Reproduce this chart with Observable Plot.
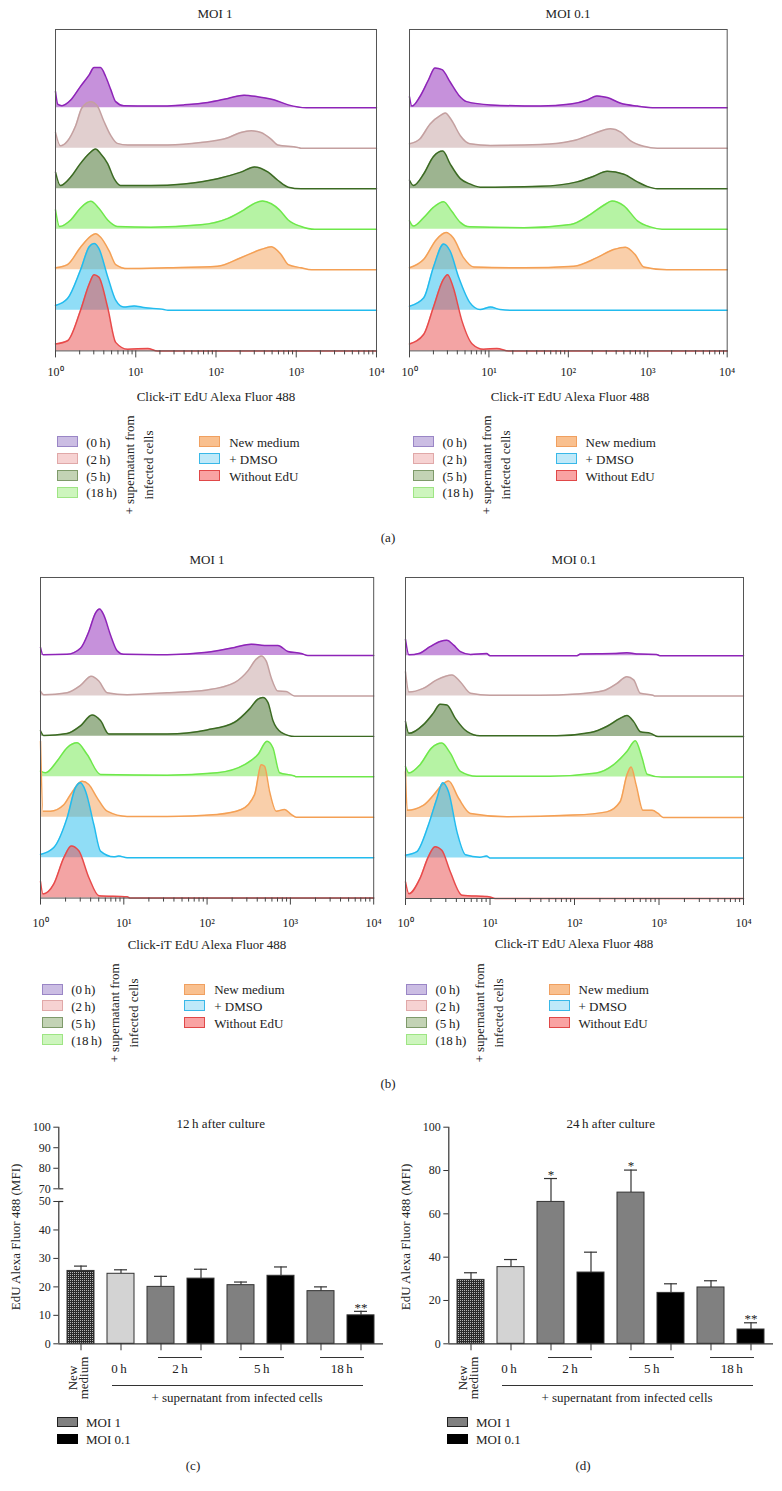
<!DOCTYPE html>
<html><head><meta charset="utf-8">
<script src="https://cdn.jsdelivr.net/npm/d3@7"></script>
<script src="https://cdn.jsdelivr.net/npm/@observablehq/plot@0.6"></script>
<style>
body{margin:0;background:#fff;}
#root{position:relative;width:782px;height:1491px;font-family:"Liberation Serif","Times New Roman",serif;color:#222;overflow:hidden;background:#fff;}
.t{position:absolute;white-space:pre;line-height:1;}
#root svg{position:absolute;overflow:visible;}
</style></head><body><div id="root"></div>
<script>
// ---------------- DATA ----------------
const traceNames = ["0 h","2 h","5 h","18 h","New medium","+ DMSO","Without EdU"];
const traceStroke = ["#8e24b8","#c4a0a0","#3b6a22","#6ee84a","#f4a055","#22bbee","#e84a4a"];
const traceOffsets = [6,5,4,3,2,1,0];
const legendFill = ["#cbbde3","#f6d2d2","#c3d3b5","#cdf5bd","#f9c08f","#bfe9f9","#f9a3a3"];
const legendStroke = ["#9a86c6","#e0a8a8","#7e9a6a","#9ee584","#f0a060","#38b8e8","#e04848"];
const legendTimeLabels = ["(0\u2009h)","(2\u2009h)","(5\u2009h)","(18\u2009h)"];
const legendCtrlLabels = ["New medium","+ DMSO","Without EdU"];
const histMajorTicks = [1,10,100,1000,10000];
const histTickLabels = ["10\u2070","10\u00b9","10\u00b2","10\u00b3","10\u2074"];
const histAxisLabel = "Click-iT EdU Alexa Fluor 488";

// each point: [log10(fluorescence), height in trace units]
// (a) MOI 1
const a1_0h  = [[0,0.40],[0.03,0.08],[0.08,0.05],[0.19,0.19],[0.31,0.52],[0.42,0.81],[0.48,0.99],[0.56,0.99],[0.625,0.77],[0.69,0.44],[0.75,0.15],[0.85,0.05],[1.19,0.04],[1.6,0.07],[1.9,0.13],[2.15,0.23],[2.35,0.31],[2.52,0.27],[2.73,0.19],[2.9,0.07],[3.125,0],[4,0]];
const a1_2h  = [[0,0.39],[0.06,0.06],[0.15,0.18],[0.25,0.55],[0.33,1.0],[0.44,1.15],[0.52,1.05],[0.6,0.68],[0.69,0.31],[0.77,0.12],[0.9,0.08],[1.4,0.08],[1.81,0.14],[2.15,0.26],[2.31,0.39],[2.44,0.43],[2.56,0.39],[2.69,0.22],[2.77,0.08],[3.02,0.02],[3.06,0],[4,0]];
const a1_5h  = [[0,0.41],[0.06,0.08],[0.19,0.29],[0.31,0.62],[0.42,0.87],[0.5,0.98],[0.56,0.87],[0.65,0.62],[0.73,0.25],[0.81,0.08],[1.19,0.08],[1.6,0.12],[2.02,0.25],[2.31,0.41],[2.48,0.54],[2.65,0.41],[2.77,0.21],[2.9,0.04],[3.06,0],[4,0]];
const a1_18h = [[0,0.48],[0.05,0.07],[0.19,0.23],[0.31,0.52],[0.44,0.69],[0.54,0.52],[0.65,0.23],[0.77,0.07],[1.19,0.05],[1.81,0.11],[2.15,0.27],[2.35,0.48],[2.48,0.64],[2.58,0.70],[2.69,0.63],[2.79,0.48],[2.9,0.23],[3.06,0.07],[3.23,0],[4,0]];
const a1_new = [[0,0.05],[0.15,0.13],[0.31,0.55],[0.44,0.83],[0.5,0.89],[0.56,0.81],[0.67,0.46],[0.75,0.13],[0.9,0.03],[1.4,0.05],[2.02,0.09],[2.31,0.3],[2.56,0.5],[2.69,0.57],[2.81,0.38],[2.9,0.13],[3.06,0.05],[3.19,0],[4,0]];
const a1_dmso= [[0,0.12],[0.15,0.29],[0.31,0.99],[0.42,1.57],[0.48,1.65],[0.54,1.53],[0.65,0.83],[0.75,0.25],[0.85,0.08],[0.98,0.11],[1.1,0.07],[1.35,0.02],[1.4,0],[4,0]];
const a1_noedu=[[0,0.17],[0.15,0.25],[0.31,0.99],[0.42,1.65],[0.48,1.88],[0.54,1.82],[0.65,1.07],[0.75,0.21],[0.9,0.04],[1.15,0.06],[1.27,0],[4,0]];
// (a) MOI 0.1
const a2_0h  = [[0,0.27],[0.03,0.04],[0.13,0.27],[0.24,0.69],[0.32,0.98],[0.41,0.94],[0.51,0.64],[0.62,0.31],[0.72,0.15],[1.02,0.07],[1.65,0.04],[2.03,0.09],[2.24,0.19],[2.36,0.29],[2.49,0.25],[2.66,0.11],[2.87,0.04],[3.1,0],[4,0]];
const a2_2h  = [[0,0.11],[0.13,0.23],[0.26,0.6],[0.39,0.81],[0.45,0.87],[0.53,0.69],[0.64,0.31],[0.76,0.11],[1.02,0.07],[1.65,0.09],[2.07,0.19],[2.32,0.36],[2.53,0.48],[2.66,0.4],[2.78,0.19],[2.95,0.05],[3.12,0],[4,0]];
const a2_5h  = [[0,0.21],[0.05,0.08],[0.18,0.37],[0.3,0.79],[0.42,0.93],[0.51,0.62],[0.64,0.25],[0.76,0.12],[0.89,0.04],[1.65,0.06],[2.11,0.17],[2.32,0.31],[2.49,0.43],[2.7,0.36],[2.87,0.17],[2.99,0.06],[3.12,0],[4,0]];
const a2_18h = [[0,0.21],[0.05,0.08],[0.18,0.29],[0.3,0.54],[0.43,0.68],[0.53,0.45],[0.64,0.17],[0.76,0.06],[1.44,0.04],[2.03,0.12],[2.28,0.37],[2.45,0.6],[2.55,0.7],[2.7,0.58],[2.87,0.21],[3.03,0.06],[3.18,0],[4,0]];
const a2_new = [[0,0.05],[0.18,0.26],[0.34,0.75],[0.46,0.92],[0.55,0.79],[0.68,0.3],[0.81,0.07],[1.44,0.05],[2.07,0.09],[2.36,0.3],[2.57,0.5],[2.72,0.56],[2.84,0.38],[2.95,0.07],[3.24,0],[4,0]];
const a2_dmso= [[0,0.1],[0.18,0.31],[0.3,1.06],[0.43,1.64],[0.51,1.47],[0.62,0.81],[0.76,0.19],[0.89,0.02],[1.02,0.08],[1.14,0.02],[1.31,0],[4,0]];
const a2_noedu=[[0,0.17],[0.18,0.41],[0.3,1.07],[0.42,1.74],[0.48,1.88],[0.55,1.57],[0.66,0.74],[0.79,0.17],[0.93,0.04],[1.1,0.06],[1.25,0],[4,0]];
// (b) MOI 1
const b1_0h  = [[0,0.2],[0.03,0.02],[0.32,0.03],[0.48,0.18],[0.58,0.59],[0.66,1.05],[0.71,1.15],[0.76,1.0],[0.84,0.51],[0.92,0.12],[1.0,0.03],[1.52,0.02],[2.0,0.08],[2.33,0.2],[2.53,0.28],[2.69,0.25],[2.85,0.25],[2.97,0.1],[3.13,0.05],[3.21,0],[4,0]];
const b1_2h  = [[0,0.12],[0.04,0.03],[0.32,0.08],[0.48,0.26],[0.61,0.49],[0.7,0.37],[0.8,0.08],[1.04,0.03],[1.52,0.08],[2.0,0.15],[2.33,0.33],[2.49,0.62],[2.59,0.91],[2.65,0.99],[2.71,0.86],[2.77,0.45],[2.85,0.12],[2.95,0.11],[3.05,0],[4,0]];
const b1_5h  = [[0,0.14],[0.04,0.02],[0.32,0.07],[0.48,0.26],[0.62,0.53],[0.72,0.39],[0.82,0.06],[1.52,0.06],[2.0,0.16],[2.33,0.35],[2.51,0.68],[2.61,0.92],[2.67,0.96],[2.73,0.84],[2.79,0.39],[2.89,0.1],[3.05,0],[4,0]];
const b1_18h = [[0,0.14],[0.06,0.1],[0.2,0.39],[0.32,0.72],[0.44,0.84],[0.56,0.55],[0.72,0.06],[1.52,0.04],[2.12,0.1],[2.45,0.3],[2.61,0.55],[2.72,0.88],[2.79,0.72],[2.87,0.1],[3.05,0.02],[3.07,0],[4,0]];
const b1_new = [[0,1.88],[0.03,0.15],[0.12,0.15],[0.28,0.31],[0.36,0.56],[0.5,0.89],[0.58,0.81],[0.68,0.48],[0.8,0.15],[1.04,0.02],[1.52,0.02],[2.12,0.07],[2.41,0.19],[2.57,0.56],[2.65,1.3],[2.69,1.26],[2.75,0.64],[2.83,0.15],[2.93,0.19],[3.01,0.07],[3.07,0],[4,0]];
const b1_dmso= [[0,0.08],[0.16,0.25],[0.32,0.99],[0.42,1.73],[0.48,1.85],[0.54,1.65],[0.64,0.82],[0.72,0.16],[0.88,0.02],[0.94,0.04],[1.04,0],[4,0]];
const b1_noedu=[[0,0.41],[0.03,0.1],[0.16,0.35],[0.28,1.0],[0.37,1.29],[0.46,1.17],[0.58,0.51],[0.7,0.06],[1.04,0.03],[1.08,0],[4,0]];
// (b) MOI 0.1
const b2_0h  = [[0,0.4],[0.04,0.02],[0.17,0.06],[0.29,0.22],[0.41,0.35],[0.49,0.38],[0.57,0.26],[0.65,0.1],[0.77,0.03],[0.96,0.05],[1.0,0],[2.03,0],[2.07,0.04],[2.46,0.05],[2.62,0.07],[2.76,0.04],[2.97,0.03],[3.01,0],[4,0]];
const b2_2h  = [[0,0.6],[0.04,0.1],[0.21,0.19],[0.37,0.4],[0.55,0.52],[0.65,0.35],[0.77,0.07],[1.0,0.02],[1.59,0.02],[2.03,0.05],[2.34,0.13],[2.5,0.31],[2.62,0.48],[2.7,0.4],[2.78,0.07],[2.93,0.02],[2.95,0],[4,0]];
const b2_5h  = [[0,0.37],[0.04,0.08],[0.21,0.29],[0.33,0.58],[0.41,0.8],[0.49,0.78],[0.59,0.45],[0.73,0.12],[0.88,0.02],[1.79,0.02],[2.19,0.1],[2.38,0.25],[2.54,0.45],[2.62,0.52],[2.7,0.37],[2.78,0.12],[2.9,0.08],[2.99,0],[4,0]];
const b2_18h = [[0,0.26],[0.04,0.1],[0.17,0.3],[0.31,0.72],[0.43,0.84],[0.53,0.59],[0.65,0.14],[0.84,0.02],[1.71,0.02],[2.26,0.1],[2.46,0.3],[2.62,0.63],[2.72,0.9],[2.8,0.47],[2.86,0.07],[3.03,0],[4,0]];
const b2_new = [[0,1.13],[0.02,0.18],[0.21,0.3],[0.33,0.55],[0.43,0.8],[0.51,0.9],[0.63,0.47],[0.77,0.1],[1.2,0.02],[1.99,0.06],[2.38,0.14],[2.54,0.39],[2.62,1.05],[2.67,1.25],[2.73,0.8],[2.81,0.18],[2.92,0.18],[2.99,0.1],[3.05,0],[4,0]];
const b2_dmso= [[0,0.07],[0.13,0.15],[0.27,0.81],[0.37,1.46],[0.44,1.86],[0.51,1.63],[0.61,0.64],[0.71,0.08],[0.88,0.02],[0.96,0.05],[1.0,0],[4,0]];
const b2_noedu=[[0,0.41],[0.04,0.12],[0.17,0.49],[0.27,1.03],[0.35,1.28],[0.43,1.19],[0.53,0.66],[0.67,0.08],[1.0,0.04],[1.06,0],[4,0]];

// bar charts
const barCategories = ["New medium","0 h","2 h MOI 1","2 h MOI 0.1","5 h MOI 1","5 h MOI 0.1","18 h MOI 1","18 h MOI 0.1"];
const barGroups = ["New medium","0 h","MOI 1","MOI 0.1","MOI 1","MOI 0.1","MOI 1","MOI 0.1"];
const mfi12 = [25.6, 24.6, 20.0, 22.9, 20.6, 23.9, 18.5, 10.0];
const err12 = [1.7, 1.4, 3.7, 3.3, 1.1, 3.1, 1.5, 1.4];
const stars12 = ["","","","","","","","**"];
const mfi24 = [29.5, 35.4, 65.5, 32.9, 69.8, 23.5, 26.0, 6.6];
const err24 = [3.3, 3.5, 10.8, 9.4, 10.4, 4.2, 3.1, 3.1];
const stars24 = ["","","*","","*","","","**"];
const yTicks12 = [0,10,20,30,40,50,70,80,90,100];
const yTicks24 = [0,20,40,60,80,100];
const barGroupColors = ["#d3d3d3","#808080","#000000"];
const timeGroupLabels = ["0\u2009h","2\u2009h","5\u2009h","18\u2009h"];

// ---------------- HELPERS ----------------
const FONT = '"Liberation Serif","Times New Roman",serif';
const root = document.getElementById("root");
function place(el, left, top){ el.style.position="absolute"; el.style.left=left+"px"; el.style.top=top+"px"; root.appendChild(el); return el; }
function txt(s, x, y, o={}){
  const d=document.createElement("div"); d.className="t"; d.textContent=s;
  d.style.fontSize=(o.size||13)+"px";
  if(o.lh) d.style.lineHeight=o.lh+"px";
  if(o.align) d.style.textAlign=o.align;
  const a=o.anchor||"middle";
  const tx=a==="middle"?"-50%":a==="end"?"-100%":"0";
  d.style.transform=`translate(${tx},-50%)`+(o.rotate?` rotate(${o.rotate}deg)`:"");
  return place(d,x,y);
}
function box(x,y,w,h,fill,stroke){
  const d=document.createElement("div");
  d.style.width=w+"px"; d.style.height=h+"px"; d.style.background=fill;
  d.style.boxSizing="border-box"; if(stroke) d.style.border="1px solid "+stroke;
  return place(d,x,y);
}
const histMinorTicks = [1,10,100,1000].flatMap(d=>[2,3,4,5,6,7,8,9].map(k=>k*d));

function drawHist(traces, f, tickPad){
  const ml=10, mr=10, mt=8, mb=36;
  const w=f.x1-f.x0+ml+mr, h=f.y1-f.y0+mt+mb;
  const marks=[];
  traces.forEach((pts,i)=>{
    const off=traceOffsets[i];
    const rows=pts.map(([lx,v])=>({x:10**lx, lo:off, hi:off+v}));
    marks.push(Plot.areaY(rows,{x:"x",y1:"lo",y2:"hi",fill:traceStroke[i],fillOpacity:0.5,curve:"monotone-x"}));
    marks.push(Plot.lineY(rows,{x:"x",y:"hi",stroke:traceStroke[i],strokeWidth:1.5,curve:"monotone-x"}));
  });
  marks.push(Plot.frame({stroke:"#555",strokeWidth:1}));
  marks.push(Plot.axisX(histMinorTicks,{tickSize:4,tickFormat:()=>"",label:null,stroke:"#444"}));
  marks.push(Plot.axisX(histMajorTicks,{tickSize:7,tickPadding:tickPad,tickFormat:d=>histTickLabels[histMajorTicks.indexOf(d)],label:null,fontSize:12,stroke:"#444"}));
  const svg=Plot.plot({width:w,height:h,marginLeft:ml,marginRight:mr,marginTop:mt,marginBottom:mb,
    x:{type:"log",domain:[1,1e4]}, y:{domain:[0,7.93],axis:null},
    style:{background:"transparent",fontFamily:FONT,fontSize:"12px",color:"#222",overflow:"visible"}, marks});
  place(svg,f.x0-ml,f.y0-mt);
}
function histLegend(x0,y0){
  const rh=16.9;
  legendTimeLabels.forEach((s,i)=>{
    box(x0,y0+i*rh-5.5,21,11,legendFill[i],legendStroke[i]);
    txt(s,x0+29.5,y0+i*rh,{anchor:"start",size:13});
  });
  txt("+ supernatant from\ninfected cells",x0+82.5,y0+23.5,{rotate:-90,size:13,lh:19,align:"center"});
  legendCtrlLabels.forEach((s,i)=>{
    box(x0+142.5,y0+i*rh-5.5,21,11,legendFill[4+i],legendStroke[4+i]);
    txt(s,x0+172.5,y0+i*rh,{anchor:"start",size:13});
  });
}

function drawBars(vals, errs, stars, o){
  const ox=o.ox, top0=1100, W=390;
  const H=o.yPix[0]-top0; // frame bottom = value 0
  const rows=barCategories.map((c,i)=>({cat:c,group:barGroups[i],value:vals[i],top:vals[i]+errs[i],star:stars[i]}));
  const yr=o.yPix.map(p=>p-top0);
  const svg=Plot.plot({width:W,height:H,marginLeft:58.3,marginRight:7,marginTop:0,marginBottom:0,
    x:{type:"band",domain:barCategories,range:[64.65,376.15],paddingInner:0.328,paddingOuter:0},
    y:{type:"linear",domain:o.yDomain,range:yr,axis:null},
    color:{type:"ordinal",domain:["New medium","0 h","MOI 1","MOI 0.1"],range:[`url(#${o.pid})`,...barGroupColors]},
    style:{background:"transparent",fontFamily:FONT,fontSize:"12px",color:"#222",overflow:"visible"},
    marks:[
      Plot.ruleX(rows,{x:"cat",y1:"value",y2:"top",stroke:"#333",strokeWidth:1.2}),
      Plot.tickY(rows,{x:"cat",y:"top",stroke:"#333",strokeWidth:1.2,insetLeft:7,insetRight:7}),
      Plot.barY(rows,{x:"cat",y:"value",fill:"group",stroke:"#333",strokeWidth:1}),
      Plot.ruleY([0],{stroke:"#333",strokeWidth:1.2}),
      Plot.axisX({tickSize:7,tickFormat:()=>"",label:null,stroke:"#333"}),
      Plot.text(rows,{x:"cat",y:"top",text:"star",dy:-4,fontSize:13})
    ]});
  const defs=d3.select(svg).insert("defs",":first-child");
  const p=defs.append("pattern").attr("id",o.pid).attr("width",2).attr("height",2).attr("patternUnits","userSpaceOnUse");
  p.append("rect").attr("width",2).attr("height",2).attr("fill","#2a2a2a");
  p.append("rect").attr("width",1).attr("height",1).attr("fill","#b8b8b8");
  place(svg,ox,top0);
  // y axis (separate narrow plot so that the axis line can be broken)
  const ax=Plot.plot({width:70,height:H,marginLeft:58.3,marginRight:6.7,marginTop:0,marginBottom:0,
    x:{type:"linear",domain:[0,1],axis:null}, y:{type:"linear",domain:o.yDomain,range:yr},
    style:{background:"transparent",fontFamily:FONT,fontSize:"12px",color:"#222",overflow:"visible"},
    marks:[
      Plot.ruleX(o.segments,{x:0,y1:d=>d[0],y2:d=>d[1],stroke:"#333",strokeWidth:1.2}),
      Plot.ruleY(o.breaks,{x1:0,x2:1,stroke:"#333",strokeWidth:1.2}),
      Plot.axisY(o.ticks,{tickSize:5,tickPadding:3,fontSize:12,label:null,stroke:"#333"})
    ]});
  place(ax,ox,top0);
  // annotations
  txt(o.title,ox+220.7,1123,{size:13});
  txt("EdU Alexa Fluor 488 (MFI)",ox+15,1236.7,{rotate:-90,size:13});
  txt("New\nmedium",ox+77.5,1378,{rotate:-90,size:13,lh:10.5,align:"center"});
  txt(timeGroupLabels[0],ox+119,1368,{size:13});
  [[158,202,180],[239,284,261.7],[320,364,341.7]].forEach(([a,b,c],i)=>{
    box(ox+a,1357.2,b-a,1,"#333");
    txt(timeGroupLabels[i+1],ox+c,1368,{size:13});
  });
  box(ox+111.7,1385.2,251.6,1,"#333");
  txt("+ supernatant from infected cells",ox+237,1397.3,{size:13});
  box(ox+56.7,1417,21,10,"#808080","#222");
  box(ox+56.7,1434,21,10,"#000","#000");
  txt("MOI 1",ox+86,1422,{anchor:"start",size:13});
  txt("MOI 0.1",ox+86,1439,{anchor:"start",size:13});
  txt(o.caption,ox+193,1465,{size:13});
}

// ---------------- PANELS ----------------
const panelA1=[a1_0h,a1_2h,a1_5h,a1_18h,a1_new,a1_dmso,a1_noedu];
const panelA2=[a2_0h,a2_2h,a2_5h,a2_18h,a2_new,a2_dmso,a2_noedu];
const panelB1=[b1_0h,b1_2h,b1_5h,b1_18h,b1_new,b1_dmso,b1_noedu];
const panelB2=[b2_0h,b2_2h,b2_5h,b2_18h,b2_new,b2_dmso,b2_noedu];

drawHist(panelA1,{x0:55,x1:376,y0:29.3,y1:350.7},10);
drawHist(panelA2,{x0:409.3,x1:727,y0:29.3,y1:350.7},10);
drawHist(panelB1,{x0:40.3,x1:373.5,y0:576.7,y1:897.3},13);
drawHist(panelB2,{x0:405.3,x1:743.3,y0:576.7,y1:897.7},13);

txt("MOI 1",215,13); txt("MOI 0.1",568,13);
txt(histAxisLabel,216,396); txt(histAxisLabel,570,396);
histLegend(56.7,441.7); histLegend(413,441.7);
txt("(a)",388,537);

txt("MOI 1",207,559); txt("MOI 0.1",574,559);
txt(histAxisLabel,207,944); txt(histAxisLabel,574,943);
histLegend(41.7,989); histLegend(406,989);
txt("(b)",388,1083);

drawBars(mfi12,err12,stars12,{ox:0,pid:"chk12",yDomain:[0,50,70,100],yPix:[1343.3,1201,1188.3,1126.7],
  ticks:yTicks12,segments:[[0,50],[70,100]],breaks:[50,70],title:"12\u2009h after culture",caption:"(c)"});
drawBars(mfi24,err24,stars24,{ox:390,pid:"chk24",yDomain:[0,100],yPix:[1343.3,1126.7],
  ticks:yTicks24,segments:[[0,100]],breaks:[],title:"24\u2009h after culture",caption:"(d)"});
</script></body></html>
